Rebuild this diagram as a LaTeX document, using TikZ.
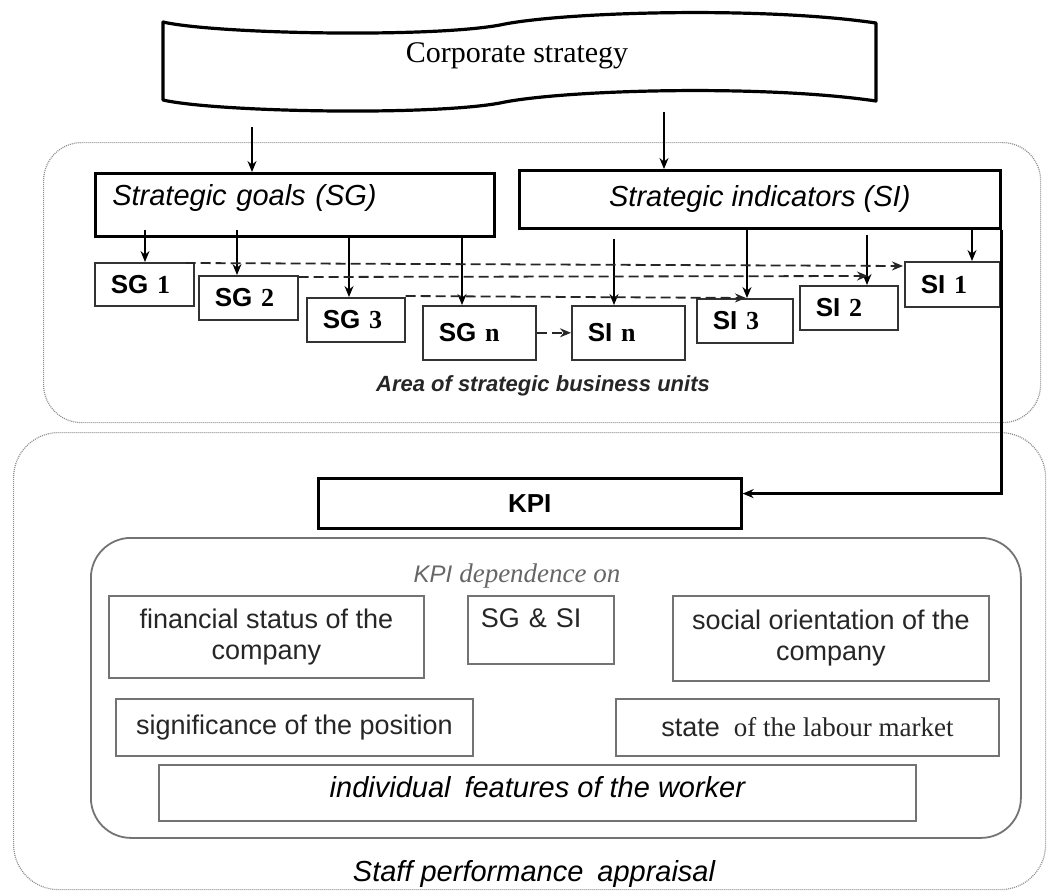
\documentclass[tikz,border=0pt]{standalone}
\usepackage{fontspec}
\setmainfont{Liberation Serif}
\setsansfont{Liberation Sans}
\usetikzlibrary{arrows.meta,calc}

\tikzset{
  arr/.style={line width=1.3pt, -{Stealth[length=11pt,width=9pt]}},
  dashline/.style={line width=1.8pt, draw=black!85, dash pattern=on 10pt off 5pt,
    -{Stealth[length=11pt,width=9pt]}},
  mainbox/.style={draw, line width=2.6pt, fill=white, anchor=north west, inner sep=0pt,
    font=\fontsize{29}{34}\selectfont\sffamily\itshape},
  unitbox/.style={draw=black!80, line width=1.6pt, fill=white, anchor=north west,
    inner xsep=16pt, inner ysep=0pt, align=left,
    font=\fontsize{26}{30}\selectfont\sffamily\bfseries},
  factor/.style={draw=black!55, line width=1.8pt, anchor=north west, inner sep=0pt,
    align=center, font=\fontsize{27}{31}\selectfont\sffamily, text=black!85},
  zone/.style={draw=black!45, line width=1.2pt, dash pattern=on 1pt off 1pt,
    rounded corners=38pt, anchor=north west, inner sep=0pt},
}

\begin{document}
\begin{tikzpicture}[x=1pt,y=-1pt]
\useasboundingbox (0,0) rectangle (1047,891);

% zones
\node[zone, minimum width=997pt, minimum height=280pt] (sbu) at (43,142) {};
\node[zone, minimum width=1032pt, minimum height=457pt, rounded corners=45pt] (spa) at (13,432) {};
\node[draw=black!55, line width=1.8pt, rounded corners=40pt, anchor=north west, inner sep=0pt,
      minimum width=930pt, minimum height=300pt] (kdep) at (90,537) {};

% corporate strategy banner
\draw[line width=3.2pt, line join=round]
  (163,22) .. controls (215,34) and (430,38) .. (500,25)
           .. controls (560,12) and (760,6) .. (876,23)
  -- (876,101) .. controls (760,84) and (560,90) .. (500,103)
               .. controls (430,116) and (215,112) .. (163,100) -- cycle;
\node[font=\fontsize{30}{34}\selectfont] (corp) at (517,56) {Corporate strategy};

% strategic goals and indicators
\node[mainbox, minimum width=399pt, minimum height=63pt, inner xsep=17pt, text width=365pt,
      align=left, text height=20pt, text depth=18pt] (sg) at (94,172) {Strategic goals (SG)};
\node[mainbox, minimum width=481pt, minimum height=58pt] (si) at (518,169) {Strategic indicators (SI)};

\coordinate (cs1) at (252,127);
\coordinate (cs2) at (664,112);
\draw[arr] (cs1) -- (cs1 |- sg.north);
\draw[arr] (cs2) -- (cs2 |- si.north);

% business units
\node[unitbox, text width=67pt, minimum height=43pt] (sg1) at (94,262)  {SG {\rmfamily 1}};
\node[unitbox, text width=67pt, minimum height=44pt] (sg2) at (198,275) {SG {\rmfamily 2}};
\node[unitbox, text width=66pt, minimum height=44pt] (sg3) at (306,297) {SG {\rmfamily 3}};
\node[unitbox, text width=81pt, minimum height=54pt] (sgn) at (422,305) {SG {\rmfamily n}};
\node[unitbox, text width=81pt, minimum height=54pt] (sin) at (571,305) {SI {\rmfamily n}};
\node[unitbox, text width=64pt, minimum height=44pt] (si3) at (696,298) {SI {\rmfamily 3}};
\node[unitbox, text width=66pt, minimum height=44pt] (si2) at (799,285) {SI {\rmfamily 2}};
\node[unitbox, text width=63pt, minimum height=45pt] (si1) at (904,261) {SI {\rmfamily 1}};

% goal arrows
\coordinate (sgo1) at ($(sg.south west)+(51,-8)$);
\coordinate (sgo2) at ($(sg.south west)+(143,-8)$);
\coordinate (sgo3) at ($(sg.south west)+(255,0)$);
\coordinate (sgo4) at ($(sg.south west)+(368,0)$);
\draw[arr] (sgo1) -- (sgo1 |- sg1.north);
\draw[arr] (sgo2) -- (sgo2 |- sg2.north);
\draw[arr] (sgo3) -- (sgo3 |- sg3.north);
\draw[arr] (sgo4) -- (sgo4 |- sgn.north);

% indicator arrows
\coordinate (sio4) at ($(si.south west)+(96,9)$);
\coordinate (sio3) at ($(si.south west)+(229,0)$);
\coordinate (sio2) at ($(si.south west)+(349,5)$);
\coordinate (sio1) at ($(si.south west)+(454,0)$);
\draw[arr] (sio4) -- (sio4 |- sin.north);
\draw[arr] (sio3) -- (sio3 |- si3.north);
\draw[arr] (sio2) -- (sio2 |- si2.north);
\draw[arr] (sio1) -- (sio1 |- si1.north);

% goal-to-indicator links
\draw[dashline] ($(sg1.north east)+(-9,1)$) -- ($(si1.north west)+(-1,5)$);
\draw[dashline] ($(sg2.north east)+(0,2)$) -- ($(si2.north west)+(69,-9)$);
\draw[dashline] ($(sg3.north east)+(0,-1)$) -- ($(si3.north west)+(50,0)$);
\draw[dashline] (sgn.east) -- (sin.west);

\node[font=\fontsize{22}{26}\selectfont\sffamily\bfseries\itshape, text=black!85] (sbulabel)
  at (543,386) {Area of strategic business units};

% KPI
\node[mainbox, font=\fontsize{26}{30}\selectfont\sffamily\bfseries,
      minimum width=423pt, minimum height=50pt] (kpi) at (317,477) {KPI};
\coordinate (kturn) at ($(si.south east)+(0,264)$);
\draw[line width=2.6pt, -{Stealth[length=11pt,width=9pt]}]
  (si.south east) -- (kturn) -- (kturn -| kpi.east);

% KPI dependence
\node[text=black!60] (deplabel) at (517,576)
  {{\fontsize{24}{28}\selectfont\sffamily\itshape KPI}\hspace{7pt}{\fontsize{27}{32}\selectfont\itshape dependence on}};
\node[factor, minimum width=315pt, minimum height=82pt] (fin) at (108,595)
  {financial status of the\\company};
\node[factor, minimum width=146pt, minimum height=68pt, inner xsep=13pt, text width=120pt,
      align=left, text height=20pt, text depth=24pt] (sgsi) at (467,595) {SG \& SI};
\node[factor, minimum width=316pt, minimum height=85pt] (soc) at (672,595)
  {social orientation of the\\company};
\node[factor, minimum width=357pt, minimum height=57pt] (sig) at (115,698)
  {significance of the position};
\node[factor, minimum width=383pt, minimum height=57pt] (lab) at (615,698)
  {state\hspace{14pt}{\rmfamily of the labour market}};
\node[factor, minimum width=757pt, minimum height=56pt, text=black,
      font=\fontsize{29}{34}\selectfont\sffamily\itshape, text height=21pt, text depth=11pt]
  (ind) at (158,764) {individual\hspace{14pt}features of the worker};

\node[font=\fontsize{29}{34}\selectfont\sffamily\itshape] (spalabel) at (534,874)
  {Staff performance\hspace{14pt}appraisal};
\end{tikzpicture}
\end{document}
